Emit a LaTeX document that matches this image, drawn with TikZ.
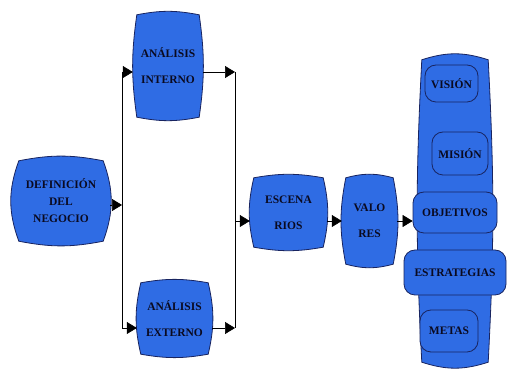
\documentclass[tikz,border=0pt]{standalone}
\usepackage{fontspec}
\setmainfont{Liberation Serif}
\usetikzlibrary{arrows.meta,backgrounds,calc}

\definecolor{boxblue}{RGB}{47,108,228}
\definecolor{boxline}{RGB}{24,36,96}
\definecolor{boxtext}{RGB}{10,10,32}

% barrel outline round a node: name, x inset, y inset, side bend, top bend
\newcommand{\barrelshape}[5]{%
  \path[barrel] ($(#1.north west)+(#2,-#3)$)
    to[bend left=#5] ($(#1.north east)+(-#2,-#3)$)
    to[bend left=#4] ($(#1.south east)+(-#2,#3)$)
    to[bend left=#5] ($(#1.south west)+(#2,#3)$)
    to[bend left=#4] ($(#1.north west)+(#2,-#3)$) -- cycle;}

\begin{document}
\begin{tikzpicture}[x=1pt,y=1pt,
                    barrel/.style={fill=boxblue,draw=boxline,line width=0.8pt},
                    stage/.style={inner sep=0pt,align=center,text=boxtext,
                                  font=\bfseries\fontsize{11.5}{17}\selectfont},
                    goal/.style={stage,draw=boxline,fill=boxblue,line width=0.8pt,
                                 rounded corners=11pt},
                    link/.style={draw,black,line width=0.6pt},
                    flow/.style={link,-{Triangle[length=10pt,width=12pt]}}]
      \useasboundingbox (0,0) rectangle (507,369);

      % first stage and the two analyses
      \node[stage,minimum width=98,minimum height=88] (def) at (61,168) {DEFINICIÓN\\DEL\\NEGOCIO};
      \node[stage,minimum width=70,minimum height=108] (int) at (168,303) {ANÁLISIS\\[9pt]INTERNO};
      \node[stage,minimum width=75,minimum height=77] (ext) at (174.5,50.5) {ANÁLISIS\\[9pt]EXTERNO};

      % scenarios and values
      \node[stage,minimum width=77,minimum height=75] (esc) at (288.5,156.5) {ESCENA\\[9pt]RIOS};
      \node[stage,minimum width=55,minimum height=92] (val) at (369.5,148) {VALO\\[9pt]RES};

      % column with the goals
      \node[minimum width=74,minimum height=312,inner sep=0pt] (col) at (455,158) {};
      \node[goal,minimum width=53,minimum height=37] (vis) at (451.5,285.5) {VISIÓN};
      \node[goal,minimum width=56,minimum height=43] (mis) at (460,215.5) {MISIÓN};
      \node[goal,minimum width=84,minimum height=41] (obj) at (455,156.5) {OBJETIVOS};
      \node[goal,minimum width=102,minimum height=45] (est) at (455,96.5) {ESTRATEGIAS};
      \node[goal,minimum width=58,minimum height=42] (met) at (449,38) {METAS};

      \begin{scope}[on background layer]
        \foreach \nm/\ix/\iy/\sbend/\tbend in {def/7/4/20/11, int/4/3/8/11, ext/4/3/13/10,
                                               esc/4/3/13/10, val/4/3/11/15, col/4/5/3/18}
          \barrelshape{\nm}{\ix}{\iy}{\sbend}{\tbend};
      \end{scope}

      % split and join lines
      \coordinate (lsplit) at (122,164);
      \coordinate (ltop) at (122,297);
      \coordinate (lbot) at (122,41);
      \coordinate (rtop) at (235,297);
      \coordinate (rbot) at (235,41);
      \coordinate (rmid) at (235,148);

      \draw[flow] (def.east |- lsplit) -- (lsplit);
      \draw[link] (ltop) -- (lbot);
      \draw[flow] (ltop) -- (int.west |- ltop);
      \draw[flow] (lbot) -- (ext.west |- lbot);
      \draw[flow] (int.east |- rtop) -- (rtop);
      \draw[flow] (ext.east |- rbot) -- (rbot);
      \draw[link] (rtop) -- (rbot);
      \draw[flow] (rmid) -- (esc.west |- rmid);
      \draw[flow] (esc.east |- rmid) -- (val.west |- rmid);
      \draw[flow] (val.east |- rmid) -- (obj.west |- rmid);
\end{tikzpicture}
\end{document}
